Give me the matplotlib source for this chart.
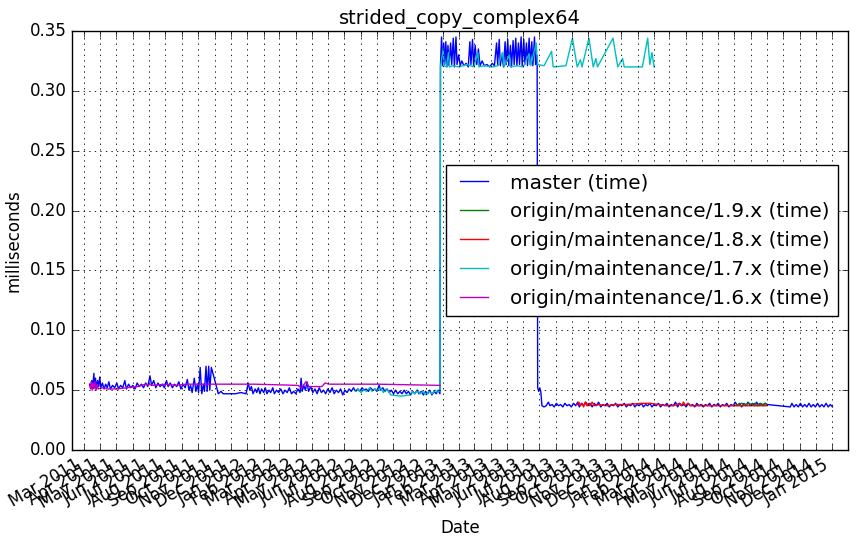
import matplotlib
matplotlib.use("Agg")
import matplotlib.pyplot as plt
import matplotlib.dates as mdates
import numpy as np
import pandas as pd

title = "strided_copy_complex64"
series_names = ["master (time)", "origin/maintenance/1.9.x (time)",
                "origin/maintenance/1.8.x (time)", "origin/maintenance/1.7.x (time)",
                "origin/maintenance/1.6.x (time)"]

master_dates = [
    "2011-03-12", "2011-03-14", "2011-03-16", "2011-03-18", "2011-03-20", "2011-03-21", "2011-03-23",
    "2011-03-25", "2011-03-27", "2011-03-29", "2011-03-31", "2011-04-02", "2011-04-05", "2011-04-08",
    "2011-04-11", "2011-04-14", "2011-04-17", "2011-04-20", "2011-04-24", "2011-04-28", "2011-05-02",
    "2011-05-05", "2011-05-09", "2011-05-13", "2011-05-17", "2011-05-20", "2011-05-24", "2011-05-28",
    "2011-06-01", "2011-06-05", "2011-06-09", "2011-06-13", "2011-06-17", "2011-06-21", "2011-06-25",
    "2011-06-29", "2011-07-03", "2011-07-06", "2011-07-10", "2011-07-14", "2011-07-18", "2011-07-22",
    "2011-07-26", "2011-07-30", "2011-08-03", "2011-08-06", "2011-08-10", "2011-08-14", "2011-08-18",
    "2011-08-22", "2011-08-26", "2011-08-30", "2011-09-03", "2011-09-07", "2011-09-11", "2011-09-14",
    "2011-09-17", "2011-09-20", "2011-09-24", "2011-09-27", "2011-09-30", "2011-10-02", "2011-10-05",
    "2011-10-08", "2011-10-11", "2011-10-13", "2011-10-16", "2011-10-18", "2011-10-21", "2011-10-23",
    "2011-10-26", "2011-11-08", "2011-11-13", "2011-11-17", "2011-12-10", "2011-12-20", "2011-12-30",
    "2012-01-03", "2012-01-06", "2012-01-09", "2012-01-12", "2012-01-16", "2012-01-19", "2012-01-22",
    "2012-01-25", "2012-01-28", "2012-02-01", "2012-02-04", "2012-02-07", "2012-02-11", "2012-02-14",
    "2012-02-18", "2012-02-21", "2012-02-25", "2012-02-29", "2012-03-04", "2012-03-08", "2012-03-12",
    "2012-03-16", "2012-03-20", "2012-03-24", "2012-03-28", "2012-04-01", "2012-04-05", "2012-04-09",
    "2012-04-11", "2012-04-13", "2012-04-16", "2012-04-19", "2012-04-22", "2012-04-25", "2012-04-29",
    "2012-05-03", "2012-05-07", "2012-05-11", "2012-05-15", "2012-05-19", "2012-05-23", "2012-05-27",
    "2012-05-31", "2012-06-04", "2012-06-08", "2012-06-12", "2012-06-16", "2012-06-20", "2012-06-24",
    "2012-06-28", "2012-07-02", "2012-07-06", "2012-07-10", "2012-07-14", "2012-07-18", "2012-07-22",
    "2012-07-26", "2012-07-30", "2012-08-03", "2012-08-07", "2012-08-11", "2012-08-15", "2012-08-19",
    "2012-08-23", "2012-08-27", "2012-08-31", "2012-09-04", "2012-09-07", "2012-09-11", "2012-09-15",
    "2012-09-19", "2012-09-23", "2012-09-27", "2012-10-01", "2012-10-05", "2012-10-09", "2012-10-13",
    "2012-10-17", "2012-10-21", "2012-10-25", "2012-10-29", "2012-11-02", "2012-11-06", "2012-11-10",
    "2012-11-14", "2012-11-18", "2012-11-22", "2012-11-26", "2012-11-30", "2012-12-04", "2012-12-08",
    "2012-12-12", "2012-12-16", "2012-12-20", "2012-12-24", "2012-12-27",
    "2012-12-28", "2012-12-30", "2013-01-01", "2013-01-03", "2013-01-05", "2013-01-07", "2013-01-09",
    "2013-01-11", "2013-01-13", "2013-01-16", "2013-01-18", "2013-01-21", "2013-01-23", "2013-01-26",
    "2013-01-28", "2013-01-31", "2013-02-03", "2013-02-06", "2013-02-10", "2013-02-14", "2013-02-18",
    "2013-02-21", "2013-02-23", "2013-02-26", "2013-02-28", "2013-03-03", "2013-03-06", "2013-03-09",
    "2013-03-12", "2013-03-16", "2013-03-20", "2013-03-25", "2013-03-30", "2013-04-04", "2013-04-08",
    "2013-04-12", "2013-04-14", "2013-04-17", "2013-04-19", "2013-04-22", "2013-04-25", "2013-04-28",
    "2013-04-30", "2013-05-03", "2013-05-05", "2013-05-08", "2013-05-10", "2013-05-13", "2013-05-15",
    "2013-05-18", "2013-05-20", "2013-05-23", "2013-05-25", "2013-05-28", "2013-05-30", "2013-06-02",
    "2013-06-04", "2013-06-07", "2013-06-09", "2013-06-12", "2013-06-14", "2013-06-17", "2013-06-19",
    "2013-06-22", "2013-06-24", "2013-06-26", "2013-06-27",
    "2013-06-28", "2013-06-30", "2013-07-02", "2013-07-04", "2013-07-06", "2013-07-10", "2013-07-14",
    "2013-07-18", "2013-07-21", "2013-07-25", "2013-07-29", "2013-08-02", "2013-08-06", "2013-08-10",
    "2013-08-14", "2013-08-18", "2013-08-22", "2013-08-26", "2013-08-30", "2013-09-03", "2013-09-07",
    "2013-09-11", "2013-09-14", "2013-09-18", "2013-09-22", "2013-09-26", "2013-09-30", "2013-10-04",
    "2013-10-08", "2013-10-12", "2013-10-16", "2013-10-20", "2013-10-24", "2013-10-28", "2013-11-01",
    "2013-11-05", "2013-11-09", "2013-11-13", "2013-11-17", "2013-11-21", "2013-11-25", "2013-11-29",
    "2013-12-03", "2013-12-07", "2013-12-11", "2013-12-15", "2013-12-19", "2013-12-23", "2013-12-27",
    "2013-12-31", "2014-01-04", "2014-01-08", "2014-01-12", "2014-01-16", "2014-01-20", "2014-01-24",
    "2014-01-28", "2014-02-01", "2014-02-05", "2014-02-09", "2014-02-13", "2014-02-17", "2014-02-21",
    "2014-02-25", "2014-03-01", "2014-03-05", "2014-03-09", "2014-03-13", "2014-03-17", "2014-03-21",
    "2014-03-25", "2014-03-29", "2014-04-02", "2014-04-06", "2014-04-10", "2014-04-14", "2014-04-18",
    "2014-04-22", "2014-04-26", "2014-04-30", "2014-05-04", "2014-05-08", "2014-05-12", "2014-05-16",
    "2014-05-20", "2014-05-24", "2014-05-28", "2014-06-01", "2014-06-05", "2014-06-09", "2014-06-13",
    "2014-06-17", "2014-06-21", "2014-06-25", "2014-06-29", "2014-07-03", "2014-07-07", "2014-07-11",
    "2014-07-15", "2014-07-19", "2014-07-23", "2014-07-27", "2014-07-31", "2014-08-04", "2014-08-08",
    "2014-08-12", "2014-08-16", "2014-08-20", "2014-08-24", "2014-08-28", "2014-09-01",
    "2014-10-14", "2014-10-17", "2014-10-21", "2014-10-25", "2014-10-29", "2014-11-02", "2014-11-06",
    "2014-11-10", "2014-11-14", "2014-11-18", "2014-11-22", "2014-11-26", "2014-11-30", "2014-12-04",
    "2014-12-08", "2014-12-12", "2014-12-16", "2014-12-20", "2014-12-24", "2014-12-28", "2015-01-01",
]
master_ms = [
    0.055, 0.052, 0.058, 0.053, 0.064, 0.052, 0.060,
    0.051, 0.058, 0.053, 0.061, 0.052, 0.056, 0.051,
    0.055, 0.052, 0.057, 0.051, 0.054, 0.052, 0.056,
    0.051, 0.054, 0.052, 0.058, 0.051, 0.055, 0.052,
    0.054, 0.051, 0.056, 0.053, 0.055, 0.052, 0.056,
    0.053, 0.062, 0.054, 0.058, 0.052, 0.056, 0.053,
    0.055, 0.052, 0.058, 0.053, 0.056, 0.052, 0.055,
    0.053, 0.057, 0.051, 0.055, 0.052, 0.059, 0.050,
    0.054, 0.048, 0.060, 0.049, 0.055, 0.048, 0.069,
    0.047, 0.055, 0.049, 0.070, 0.049, 0.070, 0.050,
    0.069, 0.047, 0.049, 0.047, 0.047, 0.048, 0.047,
    0.056, 0.050, 0.053, 0.047, 0.051, 0.048, 0.052,
    0.047, 0.051, 0.048, 0.052, 0.047, 0.050, 0.048,
    0.052, 0.047, 0.050, 0.048, 0.051, 0.047, 0.050,
    0.048, 0.052, 0.047, 0.049, 0.047, 0.051, 0.048,
    0.060, 0.049, 0.054, 0.050, 0.057, 0.049, 0.053,
    0.048, 0.051, 0.047, 0.052, 0.048, 0.050, 0.047,
    0.051, 0.048, 0.052, 0.047, 0.050, 0.048, 0.051,
    0.046, 0.050, 0.048, 0.051, 0.049, 0.052, 0.049,
    0.051, 0.049, 0.052, 0.050, 0.051, 0.049, 0.052,
    0.050, 0.051, 0.049, 0.054, 0.050, 0.052, 0.049,
    0.051, 0.048, 0.050, 0.047, 0.050, 0.047, 0.049,
    0.047, 0.050, 0.047, 0.049, 0.046, 0.049, 0.047,
    0.050, 0.047, 0.049, 0.046, 0.049, 0.047, 0.050,
    0.046, 0.049, 0.047, 0.050, 0.047,
    0.322, 0.345, 0.321, 0.340, 0.322, 0.341, 0.320,
    0.338, 0.321, 0.340, 0.322, 0.344, 0.320, 0.345,
    0.322, 0.330, 0.321, 0.325, 0.321, 0.323, 0.320,
    0.341, 0.322, 0.343, 0.321, 0.338, 0.322, 0.335,
    0.321, 0.325, 0.321, 0.322, 0.320, 0.323, 0.321,
    0.340, 0.322, 0.343, 0.321, 0.330, 0.320, 0.341,
    0.322, 0.343, 0.321, 0.338, 0.320, 0.342, 0.322,
    0.344, 0.321, 0.340, 0.322, 0.345, 0.321, 0.343,
    0.322, 0.340, 0.321, 0.344, 0.322, 0.341, 0.321,
    0.345, 0.322, 0.330, 0.325,
    0.052, 0.049, 0.052, 0.048, 0.037, 0.036, 0.037,
    0.040, 0.037, 0.038, 0.036, 0.039, 0.037, 0.038,
    0.036, 0.039, 0.037, 0.038, 0.036, 0.039, 0.037,
    0.040, 0.036, 0.039, 0.037, 0.040, 0.037, 0.039,
    0.036, 0.039, 0.037, 0.040, 0.036, 0.038, 0.037,
    0.039, 0.036, 0.038, 0.037, 0.039, 0.036, 0.038,
    0.037, 0.039, 0.036, 0.038, 0.037, 0.039, 0.036,
    0.038, 0.037, 0.039, 0.036, 0.038, 0.037, 0.039,
    0.036, 0.038, 0.037, 0.039, 0.036, 0.038, 0.037,
    0.039, 0.036, 0.038, 0.037, 0.040, 0.036, 0.039,
    0.037, 0.038, 0.036, 0.039, 0.037, 0.038, 0.036,
    0.039, 0.037, 0.038, 0.036, 0.038, 0.037, 0.039,
    0.036, 0.038, 0.037, 0.039, 0.036, 0.038, 0.037,
    0.039, 0.036, 0.038, 0.037, 0.040, 0.037, 0.039,
    0.036, 0.039, 0.037, 0.040, 0.037, 0.039, 0.037,
    0.040, 0.037, 0.039, 0.037, 0.039, 0.038,
    0.036, 0.039, 0.036, 0.038, 0.036, 0.039, 0.036,
    0.038, 0.036, 0.039, 0.036, 0.038, 0.036, 0.039,
    0.036, 0.038, 0.036, 0.039, 0.036, 0.038, 0.036,
]

m19_dates = ["2014-07-01", "2014-07-08", "2014-07-15", "2014-07-22", "2014-07-28", "2014-08-03",
             "2014-08-08", "2014-08-13", "2014-08-18", "2014-08-23", "2014-08-28", "2014-08-31"]
m19_ms = [0.037, 0.038, 0.039, 0.038, 0.039, 0.038, 0.039, 0.037, 0.039, 0.038, 0.039, 0.038]

m18_dates = ["2013-09-10", "2013-09-13", "2013-09-16", "2013-09-19", "2013-09-22", "2013-09-25",
             "2013-09-28", "2013-10-01", "2013-10-04", "2013-10-08", "2013-10-12", "2013-10-20",
             "2013-11-05", "2013-11-20", "2013-12-10", "2014-01-10", "2014-01-25", "2014-02-10",
             "2014-02-25", "2014-03-10", "2014-03-20", "2014-03-24", "2014-03-28", "2014-04-01",
             "2014-04-05", "2014-04-10", "2014-05-01", "2014-06-01", "2014-07-01", "2014-08-01",
             "2014-08-31"]
m18_ms = [0.038, 0.040, 0.037, 0.039, 0.036, 0.040, 0.037, 0.039, 0.037, 0.040, 0.037, 0.038,
          0.037, 0.038, 0.038, 0.039, 0.039, 0.038, 0.037, 0.037, 0.039, 0.037, 0.040, 0.037,
          0.039, 0.037, 0.037, 0.037, 0.037, 0.037, 0.037]

m17_dates = ["2012-07-22", "2012-07-27", "2012-08-01", "2012-08-06", "2012-08-12", "2012-08-17",
             "2012-08-22", "2012-08-27", "2012-09-02", "2012-09-07", "2012-09-12", "2012-09-17",
             "2012-09-22", "2012-09-26", "2012-10-15", "2012-11-01", "2012-11-05", "2012-11-10",
             "2012-11-15", "2012-11-20", "2012-11-25", "2012-12-01", "2012-12-06", "2012-12-12",
             "2012-12-18", "2012-12-23", "2012-12-27",
             "2012-12-28", "2013-01-02", "2013-01-04", "2013-01-08", "2013-01-12", "2013-01-14",
             "2013-01-20", "2013-02-01", "2013-02-15", "2013-03-01", "2013-03-08", "2013-03-10",
             "2013-03-20", "2013-04-05", "2013-04-15", "2013-04-23", "2013-04-26", "2013-05-06",
             "2013-05-08", "2013-05-20", "2013-06-01", "2013-06-12", "2013-06-15", "2013-06-25",
             "2013-06-28", "2013-07-10", "2013-07-24", "2013-07-27", "2013-08-20", "2013-09-01",
             "2013-09-10", "2013-09-16", "2013-09-19", "2013-10-02", "2013-10-10", "2013-10-15",
             "2013-10-18", "2013-11-16", "2013-11-25", "2013-12-04", "2013-12-07", "2014-01-10",
             "2014-01-20", "2014-01-24", "2014-01-28", "2014-02-01"]
m17_ms = [0.049, 0.051, 0.048, 0.050, 0.049, 0.052, 0.049, 0.051, 0.050, 0.052, 0.048, 0.051,
          0.049, 0.046, 0.045, 0.046, 0.049, 0.047, 0.050, 0.047, 0.049, 0.046, 0.049, 0.047,
          0.050, 0.048, 0.050,
          0.320, 0.335, 0.321, 0.320, 0.332, 0.320, 0.321, 0.320, 0.322, 0.320, 0.332, 0.320,
          0.321, 0.320, 0.321, 0.332, 0.320, 0.330, 0.320, 0.321, 0.320, 0.331, 0.321, 0.340,
          0.322, 0.321, 0.333, 0.320, 0.321, 0.344, 0.320, 0.326, 0.320, 0.344, 0.320, 0.327,
          0.320, 0.344, 0.320, 0.327, 0.320, 0.320, 0.344, 0.322, 0.332, 0.320]

m16_dates = ["2011-03-12", "2011-03-14", "2011-03-15", "2011-03-17", "2011-03-18", "2011-03-20",
             "2011-03-22", "2011-03-24", "2011-03-26", "2011-03-28", "2011-04-05", "2011-04-15",
             "2011-05-01", "2011-05-20", "2011-06-10", "2011-06-25", "2011-07-10", "2011-08-01",
             "2011-08-20", "2011-09-10", "2011-10-20", "2012-01-15", "2012-04-05", "2012-04-12",
             "2012-04-20", "2012-04-26", "2012-05-20", "2012-05-26", "2012-06-02", "2012-09-01",
             "2012-12-27"]
m16_ms = [0.054, 0.051, 0.057, 0.050, 0.056, 0.051, 0.057, 0.050, 0.055, 0.051, 0.052, 0.051,
          0.051, 0.052, 0.053, 0.055, 0.054, 0.055, 0.054, 0.055, 0.055, 0.055, 0.054, 0.052,
          0.057, 0.053, 0.053, 0.056, 0.055, 0.055, 0.054]

y_ticks = [0.00, 0.05, 0.10, 0.15, 0.20, 0.25, 0.30, 0.35]

plt.style.use("classic")
plt.rcParams["font.family"] = ["DejaVu Sans"]

fig = plt.figure(figsize=(8.58, 5.42), dpi=100, facecolor="white")
ax = fig.add_axes([0.0839, 0.1697, 0.9044, 0.7731])
ax.set_facecolor("white")

series = [
    (master_dates, master_ms, "b"),
    (m19_dates, m19_ms, "g"),
    (m18_dates, m18_ms, "r"),
    (m17_dates, m17_ms, "c"),
    (m16_dates, m16_ms, "m"),
]
for (d, v, c), name in zip(series, series_names):
    ax.plot(pd.to_datetime(d), v, color=c, lw=1.0, label=name)

ax.set_xlim(pd.Timestamp("2011-02-07"), pd.Timestamp("2015-01-30"))
ax.set_ylim(0, 0.35)
ax.set_yticks(y_ticks)
ax.yaxis.set_major_formatter(matplotlib.ticker.FormatStrFormatter("%.2f"))
ax.xaxis.set_major_locator(mdates.MonthLocator())
ax.xaxis.set_major_formatter(mdates.DateFormatter("%b %Y"))
for lab in ax.get_xticklabels():
    lab.set_rotation(30)
    lab.set_ha("right")
ax.tick_params(labelsize=12)
ax.grid(True, color="k", linestyle=":", linewidth=0.6)

ax.set_title(title, fontsize=14)
ax.set_xlabel("Date", fontsize=12)
ax.set_ylabel("milliseconds", fontsize=12)
ax.legend(loc="center right", fontsize=14.4, frameon=True, fancybox=False)

fig.savefig("out.png", dpi=100, facecolor="white")
